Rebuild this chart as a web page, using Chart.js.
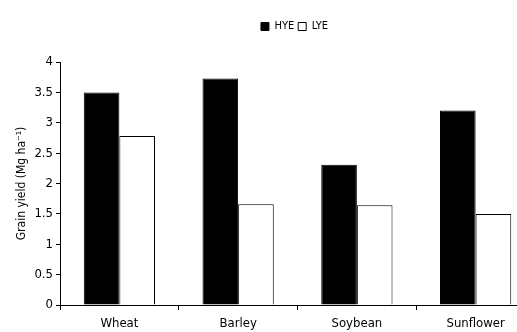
<!DOCTYPE html>
<html>
<head>
<meta charset="utf-8">
<script src="https://cdn.jsdelivr.net/npm/chart.js@4.4.0/dist/chart.umd.min.js"></script>
<style>
  html, body { margin: 0; padding: 0; background: #fff; overflow: hidden; }
  #wrap { width: 535px; height: 332px; }
</style>
</head>
<body>
<div id="wrap"><canvas id="chart1"></canvas></div>
<script>
const crops = ['Wheat', 'Barley', 'Soybean', 'Sunflower'];
const hye = [3.5, 3.73, 2.31, 3.2];
const lye = [2.78, 1.66, 1.64, 1.5];
const yTicks = [0, 0.5, 1, 1.5, 2, 2.5, 3, 3.5, 4];

const FONT = 'Tahoma, "DejaVu Sans Condensed", "DejaVu Sans", sans-serif';

// legend sits over the plot area, with a wider gap below it
const legendOverPlot = {
  id: 'legendOverPlot',
  beforeLayout(chart) {
    const lg = chart.legend;
    if (lg && !lg._patched) {
      const fit = lg.fit.bind(lg);
      lg.fit = function() { fit(); this.height += 20; };
      lg._patched = true;
    }
  },
  afterLayout(chart) {
    const lg = chart.legend;
    const w = lg.right - lg.left;
    const mid = (chart.chartArea.left + chart.chartArea.right) / 2;
    lg.left = mid - w / 2 - 3;
    lg.right = mid + w / 2 - 3;
  }
};

const ctx = document.getElementById('chart1').getContext('2d');

new Chart(ctx, {
  type: 'bar',
  data: {
    labels: crops,
    datasets: [
      {
        label: 'HYE',
        data: hye,
        backgroundColor: '#000',
        borderColor: '#000',
        borderWidth: 1
      },
      {
        label: 'LYE',
        data: lye,
        backgroundColor: '#fff',
        borderColor: '#000',
        borderWidth: 1
      }
    ]
  },
  plugins: [legendOverPlot],
  options: {
    responsive: true,
    maintainAspectRatio: false,
    animation: false,
    categoryPercentage: 0.6,
    barPercentage: 1,
    layout: { padding: { top: 17, right: 0, bottom: 0, left: 0 } },
    plugins: {
      tooltip: { enabled: false },
      legend: {
        position: 'top',
        labels: {
          color: '#000',
          font: { family: FONT, size: 11 },
          boxWidth: 8,
          boxHeight: 8,
          padding: 4,
          useBorderRadius: false
        }
      }
    },
    scales: {
      x: {
        afterFit(scale) { scale.height = 27; },
        grid: {
          display: true,
          offset: true,
          drawOnChartArea: false,
          drawTicks: true,
          tickLength: 5,
          color: '#000'
        },
        border: { display: true, color: '#000', width: 1 },
        ticks: {
          color: '#000',
          font: { family: FONT, size: 13 },
          padding: 6
        }
      },
      y: {
        min: 0,
        max: 4,
        afterFit(scale) { scale.width = 60; },
        afterBuildTicks(scale) {
          scale.ticks = yTicks.map(v => ({ value: v }));
        },
        grid: {
          display: true,
          drawOnChartArea: false,
          drawTicks: true,
          tickLength: 4,
          color: '#000'
        },
        border: { display: true, color: '#000', width: 1 },
        ticks: {
          color: '#000',
          font: { family: FONT, size: 13 },
          padding: 3,
          callback: v => String(v)
        },
        title: {
          display: true,
          text: 'Grain yield (Mg ha⁻¹)',
          color: '#000',
          font: { family: FONT, size: 12 },
          padding: { top: 15, bottom: 0 }
        }
      }
    }
  }
});
</script>
</body>
</html>
